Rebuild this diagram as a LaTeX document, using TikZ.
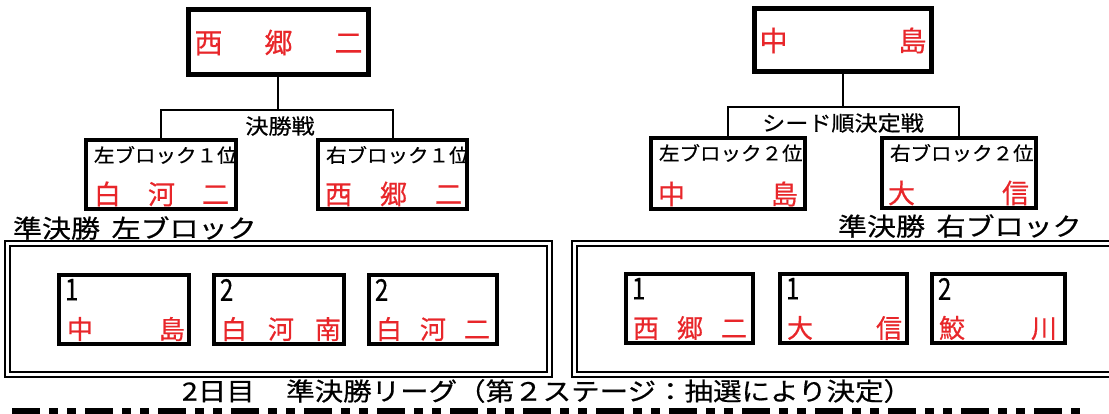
\documentclass[tikz,border=0pt]{standalone}
\usepackage{fontspec}
\usepackage{graphicx}
\setmainfont{Noto Sans CJK JP}[FakeBold=0.5]
\usetikzlibrary{fit}
\definecolor{tred}{RGB}{232,38,42}
\newcommand{\spreadtxt}[2]{\makebox[#1][s]{#2}}
\newcommand{\fs}[1]{\fontsize{#1}{#1}\selectfont}
\begin{document}
\begin{tikzpicture}[x=1pt,y=-1pt,
  line width=2pt,
  bigbox/.style={draw, line width=5pt, inner sep=0pt},
  midbox/.style={draw, line width=4pt, inner sep=0pt},
  teambox/.style={draw, line width=4pt, inner sep=0pt},
  frame/.style={draw, line width=1.6pt, inner sep=0pt},
  tname/.style={text=tred, inner sep=0pt, anchor=west, font=\fs{27pt}},
  small/.style={inner sep=0pt, font=\fs{19pt}},
  rank/.style={inner sep=0pt, anchor=north west, font=\fs{30pt}},
  head/.style={inner sep=0pt, anchor=west, font=\fs{25pt}},
  dashline/.style={line width=8pt, dash pattern=on 28pt off 9pt on 9pt off 9pt on 9pt off 9pt}
]
\useasboundingbox (0,0) rectangle (1109,414);
\fill[white] (0,0) rectangle (1109,414);

% ---------- left final ----------
\node[bigbox, fit={(188,10)(368,75)}] (champL) {};
\node[tname, font=\fs{28pt}] (champLn) at ([xshift=8pt]champL.west) {\spreadtxt{168pt}{西\hfill 郷\hfill 二}};
\node[midbox, fit={(86,140)(236,209)}] (lc1) {};
\node[midbox, fit={(318,140)(467,209)}] (rc1) {};
\draw (champL.south) -- ++(0,33) coordinate (jL);
\draw (lc1.north) |- (jL) -| (rc1.north);
\node[small, font=\fs{21pt}] (lblL) at (280,126) {\scalebox{1.1}[1]{決勝戦}};
\node[small, anchor=west] (lc1l) at ([xshift=9pt,yshift=-17pt]lc1.north west) {\scalebox{1.08}[1]{左ブロック１位}};
\node[tname] (lc1n) at ([xshift=9pt,yshift=17pt]lc1.south west) {\spreadtxt{135pt}{白\hfill 河\hfill 二}};
\node[small, anchor=west] (rc1l) at ([xshift=9pt,yshift=-17pt]rc1.north west) {\scalebox{1.08}[1]{右ブロック１位}};
\node[tname] (rc1n) at ([xshift=8pt,yshift=17pt]rc1.south west) {\spreadtxt{137pt}{西\hfill 郷\hfill 二}};

% ---------- right seeding ----------
\node[bigbox, fit={(754,9)(931,72)}] (champR) {};
\node[tname, font=\fs{28pt}] (champRn) at ([xshift=7pt]champR.west) {\spreadtxt{167pt}{中\hfill 島}};
\node[midbox, fit={(651,138)(805,209)}] (lc2) {};
\node[midbox, fit={(882,138)(1036,208)}] (rc2) {};
\draw (champR.south) -- ++(0,33) coordinate (jR);
\draw (lc2.north) |- (jR) -| (rc2.north);
\node[small, font=\fs{21pt}] (lblR) at (843,123) {\scalebox{1.1}[1]{シード順決定戦}};
\node[small, anchor=west] (lc2l) at ([xshift=9pt,yshift=-17pt]lc2.north west) {\scalebox{1.08}[1]{左ブロック２位}};
\node[tname] (lc2n) at ([xshift=8pt,yshift=17pt]lc2.south west) {\spreadtxt{140pt}{中\hfill 島}};
\node[small, anchor=west] (rc2l) at ([xshift=9pt,yshift=-17pt]rc2.north west) {\scalebox{1.08}[1]{右ブロック２位}};
\node[tname] (rc2n) at ([xshift=7pt,yshift=17pt]rc2.south west) {\spreadtxt{141pt}{大\hfill 信}};

% ---------- block headings ----------
\node[head] (hL) at (12,228) {\scalebox{1.16}[1]{準決勝\hspace{0.4em}左ブロック}};
\node[head] (hR) at (837,226) {\scalebox{1.16}[1]{準決勝\hspace{0.4em}右ブロック}};

% ---------- block frames ----------
\node[frame, fit={(5,241)(552,377)}] (fL) {};
\node[frame, fit={(10,246)(547,372)}] (fLi) {};
\node[frame, fit={(572,241)(1140,377)}] (fR) {};
\node[frame, fit={(577,246)(1135,372)}] (fRi) {};

% ---------- left block teams ----------
\node[teambox, fit={(59,275)(189,344)}] (a1) {};
\node[teambox, fit={(214,275)(344,344)}] (a2) {};
\node[teambox, fit={(369,275)(497,344)}] (a3) {};
\node[rank] (a1r) at ([xshift=7pt,yshift=-5pt]a1.north west) {\scalebox{0.8}[1]{1}};
\node[rank] (a2r) at ([xshift=7pt,yshift=-5pt]a2.north west) {\scalebox{0.8}[1]{2}};
\node[rank] (a3r) at ([xshift=7pt,yshift=-5pt]a3.north west) {\scalebox{0.8}[1]{2}};
\node[tname, font=\fs{26pt}] (a1n) at ([xshift=9pt,yshift=17pt]a1.south west) {\spreadtxt{118pt}{中\hfill 島}};
\node[tname, font=\fs{26pt}] (a2n) at ([xshift=8pt,yshift=17pt]a2.south west) {\spreadtxt{120pt}{白\hfill 河\hfill 南}};
\node[tname, font=\fs{26pt}] (a3n) at ([xshift=8pt,yshift=17pt]a3.south west) {\spreadtxt{114pt}{白\hfill 河\hfill 二}};

% ---------- right block teams ----------
\node[teambox, fit={(626,274)(753,343)}] (b1) {};
\node[teambox, fit={(780,274)(907,343)}] (b2) {};
\node[teambox, fit={(932,274)(1065,343)}] (b3) {};
\node[rank] (b1r) at ([xshift=7pt,yshift=-5pt]b1.north west) {\scalebox{0.8}[1]{1}};
\node[rank] (b2r) at ([xshift=7pt,yshift=-5pt]b2.north west) {\scalebox{0.8}[1]{1}};
\node[rank] (b3r) at ([xshift=7pt,yshift=-5pt]b3.north west) {\scalebox{0.8}[1]{2}};
\node[tname, font=\fs{26pt}] (b1n) at ([xshift=8pt,yshift=17pt]b1.south west) {\spreadtxt{114pt}{西\hfill 郷\hfill 二}};
\node[tname, font=\fs{26pt}] (b2n) at ([xshift=8pt,yshift=17pt]b2.south west) {\spreadtxt{115pt}{大\hfill 信}};
\node[tname, font=\fs{26pt}] (b3n) at ([xshift=8pt,yshift=17pt]b3.south west) {\spreadtxt{118pt}{鮫\hfill 川}};

% ---------- caption and dashed rule ----------
\node[head, font=\fs{25pt}] (cap) at (181,391) {\scalebox{1.14}[1]{2日目\hspace{1.1em}準決勝リーグ（第２ステージ：抽選により決定）}};
\coordinate (dl) at (12,412);
\coordinate (dr) at (1086,412);
\draw[dashline] (dl) -- (dr);
\end{tikzpicture}
\end{document}
